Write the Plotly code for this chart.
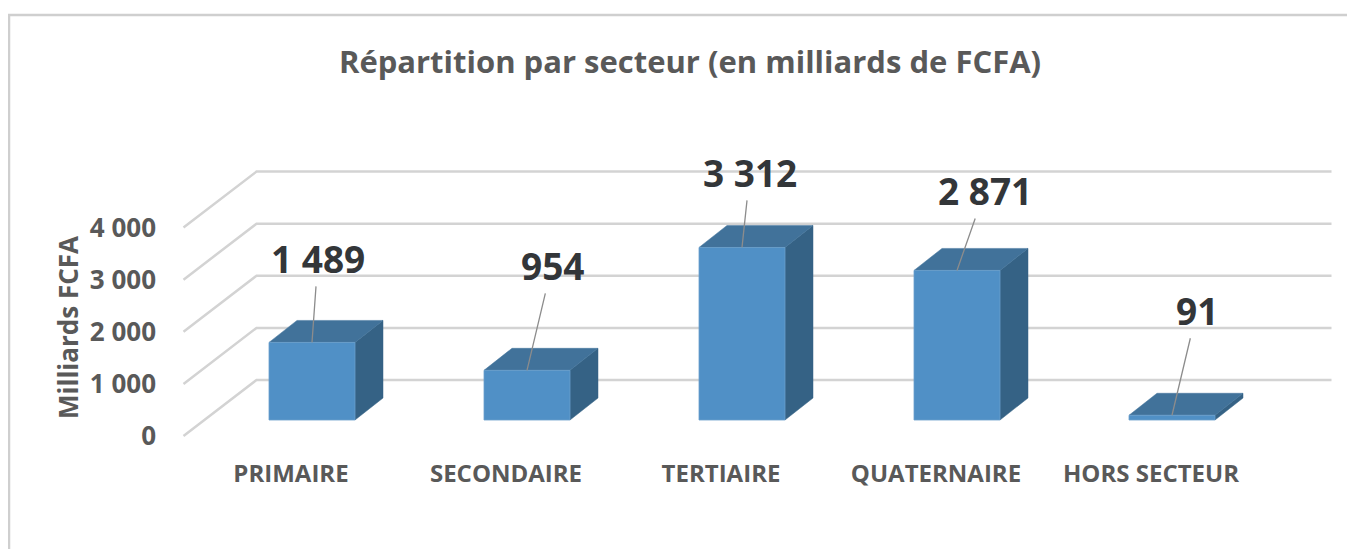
import plotly.graph_objects as go

# ---------------- data ----------------
categories = ["PRIMAIRE", "SECONDAIRE", "TERTIAIRE", "QUATERNAIRE", "HORS SECTEUR"]
values = [1489, 954, 3312, 2871, 91]
value_text = ["1 489", "954", "3 312", "2 871", "91"]
tick_values = [0, 1000, 2000, 3000, 4000]
tick_text = ["0", "1 000", "2 000", "3 000", "4 000"]

# ---------------- layout geometry ----------------
OFF = 8                      # default page (body) margin
W, H = 1355 - OFF, 549 - OFF # figure size in pixels

# geometry in figure pixels (page pixel - OFF)
PX0, PXU = 312.0 - OFF, 215.0      # pixel x of category 0, pixels per category
PY0, PYU = 420.0 - OFF, 0.0521     # pixel y of value 0 (bar plane), pixels per unit
L, R, T, B = 160 - OFF, 1340 - OFF, 100 - OFF, 457 - OFF  # plot area

def ux(px):
    return (px - PX0) / PXU

def vy(py):
    return (PY0 - py) / PYU

# oblique projection offsets (in data units)
BAR_HALF = 43 / PXU
BAR_DX, BAR_DY = 28 / PXU, 22 / PYU        # bar depth
WALL_DX, WALL_DY = 52 / PXU, 40 / PYU      # bar plane -> back wall
FRONT_DX, FRONT_DY = -21 / PXU, -16 / PYU  # bar plane -> front floor edge

FRONT_COL = "#5090C6"
TOP_COL = "#41729A"
SIDE_COL = "#356285"
GRID_COL = "#D3D3D3"
TXT = "#595959"
FONT = "Open Sans"

fig = go.Figure()

# gridlines: back wall + left side wall
n = len(categories)
x_left, x_right = -0.5, n - 0.5
for t in tick_values:
    fig.add_trace(go.Scatter(
        x=[x_left + FRONT_DX, x_left + WALL_DX, x_right + WALL_DX],
        y=[t + FRONT_DY, t + WALL_DY, t + WALL_DY],
        mode="lines", line=dict(color=GRID_COL, width=2.5),
        hoverinfo="skip", showlegend=False))

# 3D bars
for i, v in enumerate(values):
    xl, xr = i - BAR_HALF, i + BAR_HALF
    # side face
    fig.add_trace(go.Scatter(
        x=[xr, xr + BAR_DX, xr + BAR_DX, xr, xr],
        y=[0, BAR_DY, v + BAR_DY, v, 0],
        fill="toself", fillcolor=SIDE_COL, mode="lines",
        line=dict(color=SIDE_COL, width=0.5), hoverinfo="skip", showlegend=False))
    # top face
    fig.add_trace(go.Scatter(
        x=[xl, xr, xr + BAR_DX, xl + BAR_DX, xl],
        y=[v, v, v + BAR_DY, v + BAR_DY, v],
        fill="toself", fillcolor=TOP_COL, mode="lines",
        line=dict(color=TOP_COL, width=0.5), hoverinfo="skip", showlegend=False))
    # front face
    fig.add_trace(go.Scatter(
        x=[xl, xr, xr, xl, xl],
        y=[0, 0, v, v, 0],
        fill="toself", fillcolor=FRONT_COL, mode="lines",
        line=dict(color="#6A9FCC", width=0.8), hoverinfo="skip", showlegend=False,
        name=categories[i]))

# data labels with leader lines (pixel offsets of label from bar top)
label_ax = [6, 25, 8, 28, 25]
label_ay = [-84, -105, -75, -80, -105]
for i, v in enumerate(values):
    fig.add_annotation(
        x=i, y=v, text=value_text[i], showarrow=True, arrowhead=0,
        arrowwidth=1.3, arrowcolor="#8C8C8C", ax=label_ax[i], ay=label_ay[i],
        standoff=0, borderpad=2,
        font=dict(family=FONT, size=37, color="#333639", weight="bold"))

# y-axis title
fig.add_annotation(
    x=(68 - OFF - L) / (R - L), y=(B - (328 - OFF)) / (B - T), xref="paper", yref="paper",
    xanchor="center", yanchor="middle",
    text="Milliards FCFA", textangle=-90, showarrow=False,
    font=dict(family=FONT, size=26, color=TXT, weight="bold"))

# chart frame
fig.add_shape(type="rect", xref="paper", yref="paper",
              x0=(9 - OFF - L) / (R - L), x1=(1400 - L) / (R - L),
              y0=(B - 700) / (B - T), y1=(B - (15 - OFF)) / (B - T),
              line=dict(color="#CFCFCF", width=2.5), layer="below")

fig.update_layout(
    width=W, height=H,
    margin=dict(l=L, r=W - R, t=T, b=H - B, pad=0),
    paper_bgcolor="white", plot_bgcolor="white",
    title=dict(text="Répartition par secteur (en milliards de FCFA)",
               x=(690 - OFF) / W, xanchor="center", y=1 - (62 - OFF) / H, yanchor="middle",
               xref="container", yref="container",
               font=dict(family=FONT, size=31, color=TXT, weight="bold")),
    xaxis=dict(range=[ux(L), ux(R)], showgrid=False, zeroline=False,
               showline=False, ticks="",
               tickvals=[i + FRONT_DX for i in range(n)], ticktext=categories,
               tickfont=dict(family=FONT, size=24, color=TXT, weight="bold")),
    yaxis=dict(range=[vy(B), vy(T)], showgrid=False, zeroline=False,
               showline=False, ticks="", ticklabelstandoff=3,
               tickvals=[t + FRONT_DY for t in tick_values], ticktext=tick_text,
               tickfont=dict(family=FONT, size=26, color=TXT, weight="bold")),
    showlegend=False,
)

fig.write_html("out.html")
